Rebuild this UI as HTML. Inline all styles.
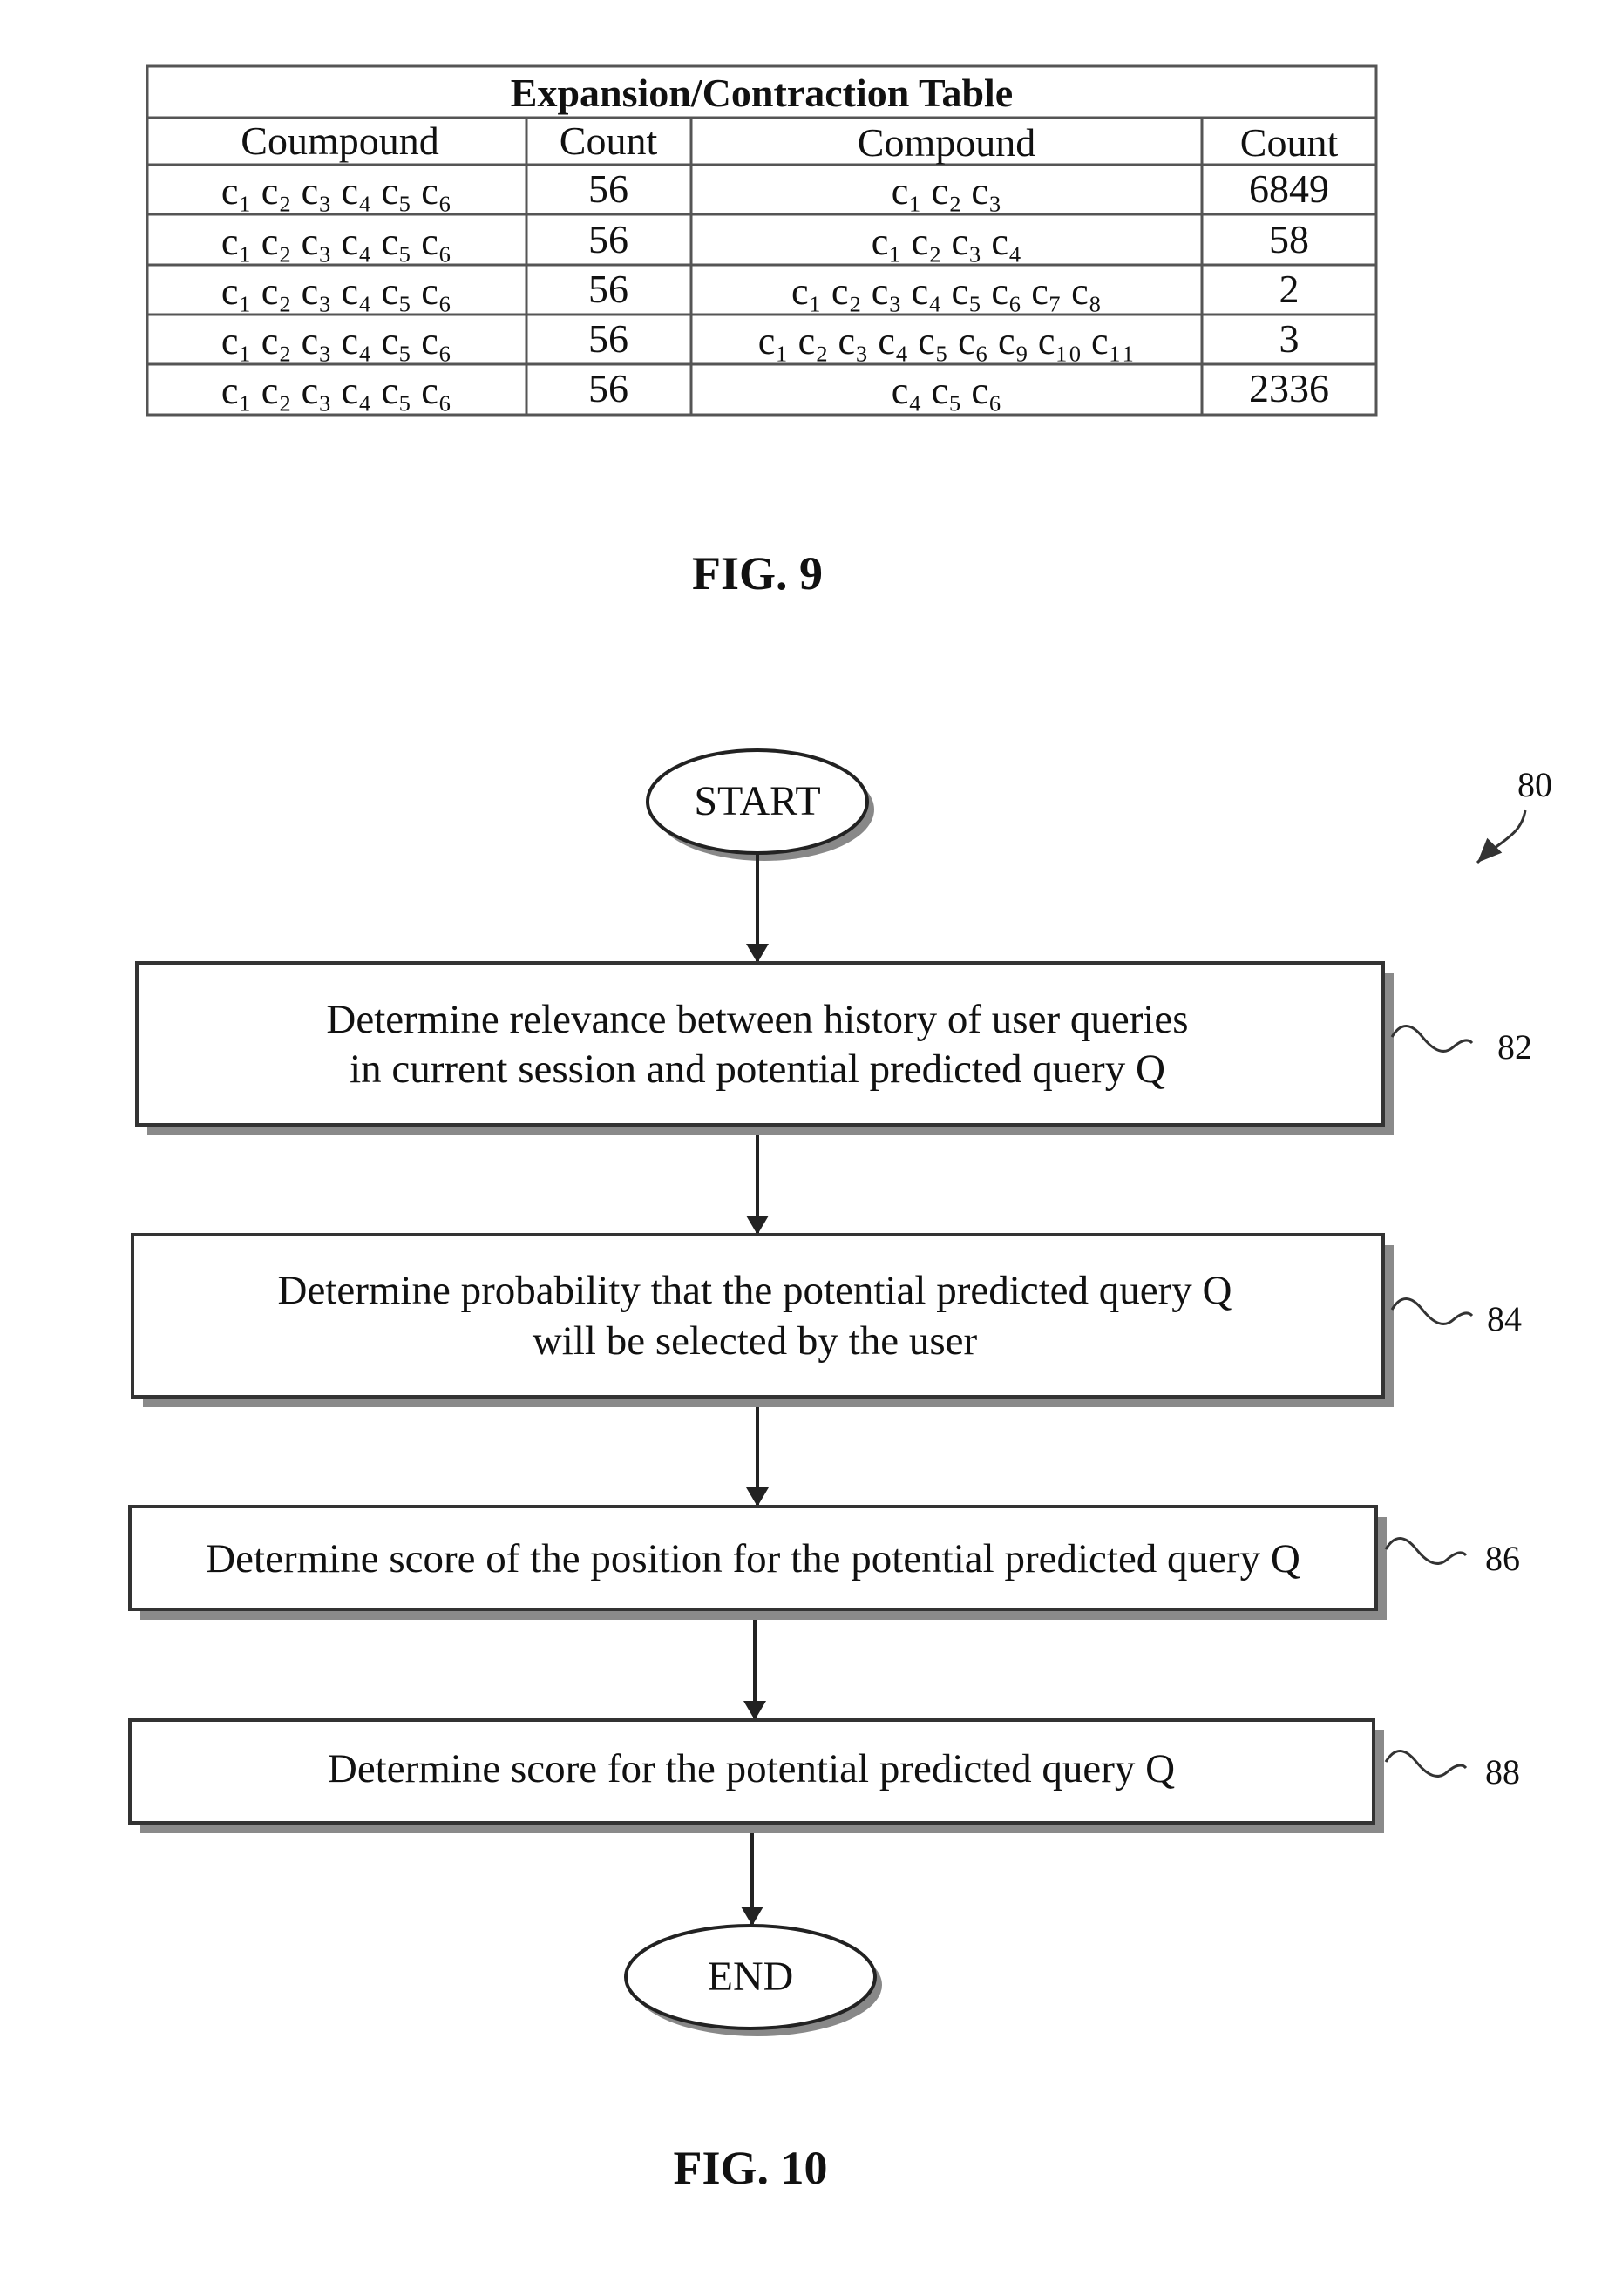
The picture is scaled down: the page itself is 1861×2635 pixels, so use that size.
<!DOCTYPE html>
<html><head><meta charset="utf-8"><style>
html,body{margin:0;padding:0;background:#fff;}
svg{display:block;}
text{font-family:"Liberation Serif",serif;fill:#111;}
</style></head><body>
<svg width="1861" height="2635" viewBox="0 0 1861 2635" xmlns="http://www.w3.org/2000/svg">
<defs>
<marker id="ah" markerWidth="22" markerHeight="26" refX="20" refY="13" orient="auto" markerUnits="userSpaceOnUse">
<path d="M0,0 L22,13 L0,26 Z" fill="#222"/>
</marker>
<marker id="ah2" markerWidth="30" markerHeight="30" refX="28" refY="15" orient="auto" markerUnits="userSpaceOnUse">
<path d="M0,3 L28,15 L0,27 Z" fill="#333"/>
</marker>
</defs>
<!-- Table -->
<g stroke="#555" stroke-width="3" fill="none">
<rect x="169" y="76" width="1410" height="400"/>
<line x1="169" y1="135" x2="1579" y2="135"/>
<line x1="169" y1="189" x2="1579" y2="189"/>
<line x1="169" y1="246" x2="1579" y2="246"/>
<line x1="169" y1="304" x2="1579" y2="304"/>
<line x1="169" y1="361" x2="1579" y2="361"/>
<line x1="169" y1="418" x2="1579" y2="418"/>
<line x1="604" y1="135" x2="604" y2="476"/>
<line x1="793" y1="135" x2="793" y2="476"/>
<line x1="1379" y1="135" x2="1379" y2="476"/>
</g>
<g font-size="46" text-anchor="middle">
<text x="874" y="122" font-weight="bold">Expansion/Contraction Table</text>
<text x="390" y="177">Coumpound</text>
<text x="698" y="177">Count</text>
<text x="1086" y="179">Compound</text>
<text x="1479" y="179">Count</text>
<g font-size="44">
<text x="386" y="234">c₁ c₂ c₃ c₄ c₅ c₆</text>
<text x="386" y="292">c₁ c₂ c₃ c₄ c₅ c₆</text>
<text x="386" y="349">c₁ c₂ c₃ c₄ c₅ c₆</text>
<text x="386" y="406">c₁ c₂ c₃ c₄ c₅ c₆</text>
<text x="386" y="463">c₁ c₂ c₃ c₄ c₅ c₆</text>
<text x="1086" y="234">c₁ c₂ c₃</text>
<text x="1086" y="292">c₁ c₂ c₃ c₄</text>
<text x="1086" y="349">c₁ c₂ c₃ c₄ c₅ c₆ c₇ c₈</text>
<text x="1086" y="406">c₁ c₂ c₃ c₄ c₅ c₆ c₉ c₁₀ c₁₁</text>
<text x="1086" y="463">c₄ c₅ c₆</text>
</g>
<text x="698" y="232">56</text><text x="698" y="290">56</text><text x="698" y="347">56</text><text x="698" y="404">56</text><text x="698" y="461">56</text>
<text x="1479" y="232">6849</text><text x="1479" y="290">58</text><text x="1479" y="347">2</text><text x="1479" y="404">3</text><text x="1479" y="461">2336</text>
</g>
<text x="869" y="676" font-size="54" font-weight="bold" text-anchor="middle">FIG. 9</text>

<!-- Flowchart -->
<ellipse cx="877" cy="929" rx="126" ry="59" fill="#888"/>
<ellipse cx="869" cy="920" rx="126" ry="59" fill="#fff" stroke="#222" stroke-width="4"/>
<text x="869" y="935" font-size="48" text-anchor="middle">START</text>

<text x="1761" y="914" font-size="40" text-anchor="middle">80</text>
<path d="M1750,930 C1745,960 1720,965 1695,990" stroke="#333" stroke-width="3" fill="none" marker-end="url(#ah2)"/>

<g stroke="#222" stroke-width="4" fill="none">
<line x1="869" y1="979" x2="869" y2="1103" marker-end="url(#ah)"/>
<line x1="869" y1="1302" x2="869" y2="1415" marker-end="url(#ah)"/>
<line x1="869" y1="1614" x2="869" y2="1727" marker-end="url(#ah)"/>
<line x1="866" y1="1858" x2="866" y2="1972" marker-end="url(#ah)"/>
<line x1="863" y1="2103" x2="863" y2="2208" marker-end="url(#ah)"/>
</g>

<g>
<rect x="169" y="1117" width="1430" height="186" fill="#8a8a8a"/>
<rect x="157" y="1105" width="1430" height="186" fill="#fff" stroke="#333" stroke-width="4"/>
<rect x="164" y="1429" width="1435" height="186" fill="#8a8a8a"/>
<rect x="152" y="1417" width="1435" height="186" fill="#fff" stroke="#333" stroke-width="4"/>
<rect x="161" y="1741" width="1430" height="118" fill="#8a8a8a"/>
<rect x="149" y="1729" width="1430" height="118" fill="#fff" stroke="#333" stroke-width="4"/>
<rect x="161" y="1986" width="1427" height="118" fill="#8a8a8a"/>
<rect x="149" y="1974" width="1427" height="118" fill="#fff" stroke="#333" stroke-width="4"/>
</g>
<g font-size="47" text-anchor="middle">
<text x="869" y="1185">Determine relevance between history of user queries</text>
<text x="869" y="1242">in current session and potential predicted query Q</text>
<text x="866" y="1496">Determine probability that the potential predicted query Q</text>
<text x="866" y="1554">will be selected by the user</text>
<text x="864" y="1804">Determine score of the position for the potential predicted query Q</text>
<text x="862" y="2045">Determine score for the potential predicted query Q</text>
</g>

<g stroke="#333" stroke-width="3" fill="none">
<path d="M1597,1190 q15,-25 35,0 t35,12 t22,-5"/>
<path d="M1597,1503 q15,-25 35,0 t35,12 t22,-5"/>
<path d="M1590,1778 q15,-25 35,0 t35,12 t22,-5"/>
<path d="M1590,2022 q15,-25 35,0 t35,12 t22,-5"/>
</g>
<g font-size="40" text-anchor="middle">
<text x="1738" y="1215">82</text>
<text x="1726" y="1527">84</text>
<text x="1724" y="1802">86</text>
<text x="1724" y="2047">88</text>
</g>

<ellipse cx="869" cy="2278" rx="143" ry="59" fill="#888"/>
<ellipse cx="861" cy="2269" rx="143" ry="59" fill="#fff" stroke="#222" stroke-width="4"/>
<text x="861" y="2284" font-size="48" text-anchor="middle">END</text>

<text x="861" y="2506" font-size="54" font-weight="bold" text-anchor="middle">FIG. 10</text>
</svg>
</body></html>
